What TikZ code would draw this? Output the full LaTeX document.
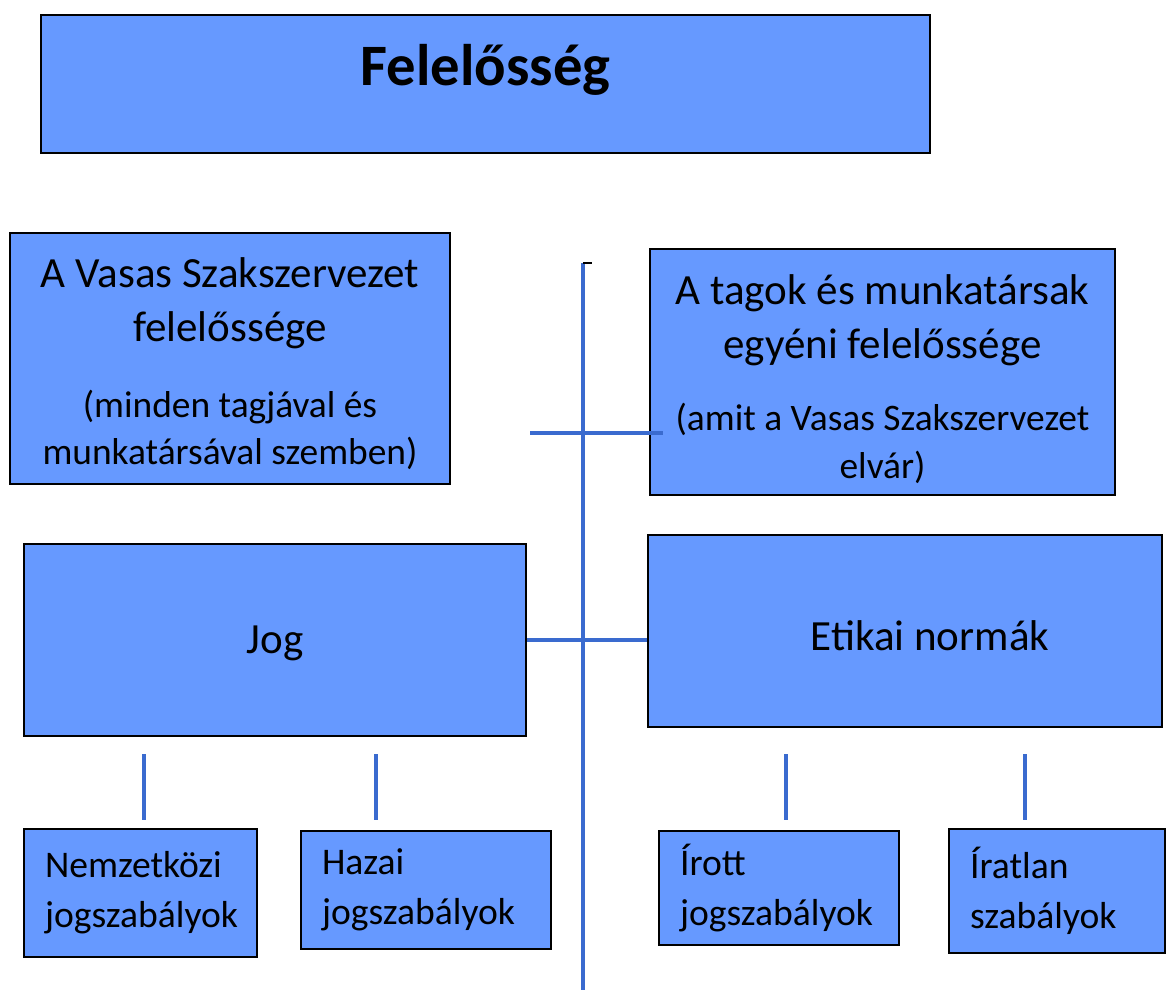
\documentclass[tikz,border=0pt]{standalone}
\usepackage{fontspec}
\setmainfont{Carlito}

\definecolor{dobozkek}{HTML}{6699FF}
\definecolor{vonalkek}{HTML}{3A6BCF}

\newcommand{\kisbetu}{\fontsize{21.3}{26.7}\selectfont}

\tikzset{
  doboz/.style={draw=black, line width=1.1pt, fill=dobozkek, rectangle, inner sep=0pt},
  nagybetu/.style={font=\fontsize{24.5}{31}\selectfont},
  alsodoboz/.style={doboz, align=left, inner xsep=0.42cm, font=\fontsize{21.4}{28.4}\selectfont},
  vonal/.style={vonalkek, line width=2.3pt},
}

\begin{document}
\begin{tikzpicture}[x=0.02cm, y=-0.02cm]
  \useasboundingbox (0,0) rectangle (1172,992);

  % title
  \node[doboz, minimum width=17.78cm, minimum height=2.76cm] (cim) at (485.5,84) {};
  \node[font=\fontsize{33.4}{40}\selectfont\bfseries] (cimszoveg) at (485.5,70) {Felelősség};

  % upper boxes
  \node[doboz, nagybetu, minimum width=8.8cm, minimum height=5.02cm, align=center] (szakszervezet) at (230,358.5)
    {\rule{0pt}{23pt}A Vasas Szakszervezet\\ felelőssége\\[12pt]
     \kisbetu (minden tagjával és\\[-4pt] \kisbetu munkatársával szemben)};
  \node[doboz, nagybetu, minimum width=9.3cm, minimum height=4.92cm, align=center] (tagok) at (882.5,372)
    {\rule{0pt}{25pt}A tagok és munkatársak\\ egyéni felelőssége\\[10pt]
     \kisbetu (amit a Vasas Szakszervezet\\[-4pt] \kisbetu elvár)};

  % middle boxes
  \node[doboz, nagybetu, minimum width=10.04cm, minimum height=3.84cm, text height=20pt] (jog) at (275,640) {Jog};
  \node[doboz, nagybetu, minimum width=10.28cm, minimum height=3.84cm, text height=22pt] (etikai) at (905,631) {\hspace*{1cm}Etikai normák};

  % lower boxes
  \node[alsodoboz, text width=3.82cm, minimum height=2.56cm] (nemzetkozi) at (140.5,893) {Nemzetközi\\ jogszabályok};
  \node[alsodoboz, text width=4.16cm, minimum height=2.36cm] (hazai) at (426,890) {Hazai\\ jogszabályok};
  \node[alsodoboz, text width=3.96cm, minimum height=2.28cm] (irott) at (779,888) {Írott\\ jogszabályok};
  \node[alsodoboz, text width=3.48cm, minimum height=2.48cm] (iratlan) at (1057,891) {Íratlan\\ szabályok};

  % connectors
  \coordinate (tengelyfent) at (583,263);
  \coordinate (tengelylent) at (583,990);
  \draw[vonal] (tengelyfent) -- (tengelylent);
  \draw[black, line width=0.9pt] (tengelyfent) -- ++(9,0);

  \coordinate (felsobal) at (530,433);
  \coordinate (felsojobb) at (663,433);
  \draw[vonal] (felsobal) -- (felsojobb);

  \draw[vonal] (jog.east) -- (jog.east -| etikai.west);

  \foreach \x in {144,376,786,1025}{
    \draw[vonal] (\x,754) -- (\x,820);
  }
\end{tikzpicture}
\end{document}
